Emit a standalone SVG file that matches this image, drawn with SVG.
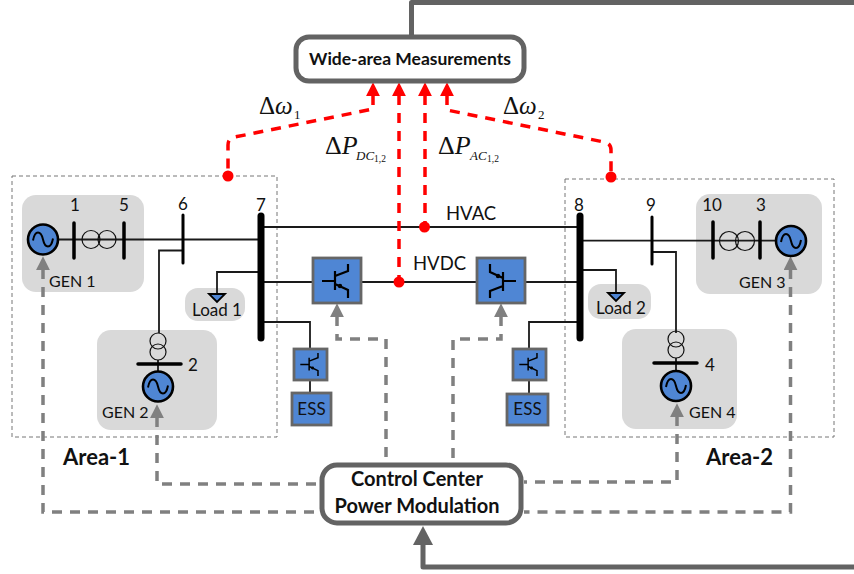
<svg xmlns="http://www.w3.org/2000/svg" width="854" height="574" viewBox="0 0 854 574">
<style>
text{font-family:Lato,Carlito,"Open Sans",sans-serif;fill:#111}
.t{font-size:17px}
.g{font-size:16px}
.h{font-size:18.5px}
.c{text-anchor:middle}
.b{font-weight:700}
.m{font-family:"Liberation Serif","DejaVu Serif",serif}
.i{font-style:italic}
.gray{fill:#d9d9d9}
.area{fill:none;stroke:#777;stroke-width:1;stroke-dasharray:4 3}
.w{fill:none;stroke:#1a1a1a;stroke-width:1.8}
.bus{stroke:#000;stroke-linecap:round;fill:none}
.xf{fill:none;stroke:#111;stroke-width:1.2}
.gen{fill:#4f86d4;stroke:#000;stroke-width:2.6}
.sine{fill:none;stroke:#000;stroke-width:2}
.conv{fill:#4f86d4;stroke:#666;stroke-width:2.8}
.big{fill:#fff;stroke:#636363;stroke-width:5}
.thick{fill:none;stroke:#636363;stroke-width:5;stroke-linejoin:round}
.red{fill:none;stroke:#f00;stroke-width:3.5;stroke-dasharray:10 8}
.gd{fill:none;stroke:#808080;stroke-width:3.5;stroke-dasharray:10 8}
.dot{fill:#f00}
.tr{fill:none;stroke:#000;stroke-width:2.2}
</style>
<defs>
<marker id="ar" markerUnits="userSpaceOnUse" markerWidth="14" markerHeight="14" viewBox="0 0 12 12" refX="1" refY="6" orient="auto-start-reverse"><path d="M0,0L12,6L0,12z" fill="#f00"/></marker>
<marker id="ag" markerUnits="userSpaceOnUse" markerWidth="14" markerHeight="14" viewBox="0 0 12 12" refX="1" refY="6" orient="auto-start-reverse"><path d="M0,0L12,6L0,12z" fill="#808080"/></marker>
<marker id="ad" markerUnits="userSpaceOnUse" markerWidth="20" markerHeight="20" viewBox="0 0 20 20" refX="1" refY="10" orient="auto"><path d="M0,0L19,10L0,20z" fill="#636363"/></marker>
<g id="tran"><path class="tr" d="M-15,0H-2M-2,-10V9M-2,-5L11,-10V-17M-2,3L11,9V17"/><circle cx="3" cy="5" r="2.2" fill="#000"/></g>
<g id="sin"><path class="sine" d="M-10,1C-8,-10 -2,-9 0,0C2,9 8,10 10,-1"/></g>
</defs>

<g id="area-1"><rect class="area" x="12" y="176" width="265" height="261"/><text class="b" x="63" y="465" font-size="22">Area-1</text></g>
<g id="area-2"><rect class="area" x="565" y="179" width="269" height="258"/><text class="b" x="706" y="465" font-size="22">Area-2</text></g>

<g id="backdrops">
<rect class="gray" x="22" y="195" width="122" height="97" rx="14"/>
<rect class="gray" x="185" y="288" width="60" height="33" rx="13"/>
<rect class="gray" x="97" y="330" width="120" height="100" rx="14"/>
<rect class="gray" x="696" y="194" width="126" height="100" rx="14"/>
<rect class="gray" x="588" y="284" width="63" height="35" rx="13"/>
<rect class="gray" x="622" y="329" width="115" height="100" rx="14"/>
</g>

<g id="connectors">
<path class="w" d="M58,239.500H258M183,250.500H159V333M258,272H217V295"/>
<path class="w" d="M264,227H578M264,282H313M361,282H477M525,282H578M264,322H310V349M310,380V393"/>
<path class="w" d="M582,240.700H776M652,252H676V333M582,270H616V293"/>
<path class="w" d="M578,322H529V349M529,380V394"/>
<path class="w" d="M158,360V371M676,358V371"/>
<path class="thick" d="M411.500,36V2.500H854"/>
<path class="thick" d="M854,567H423V544" marker-end="url(#ad)"/>
<path class="red" d="M373,95V109L235,137Q228,138 228,145V176" marker-start="url(#ar)"/>
<path class="red" d="M399,95V282" marker-start="url(#ar)"/>
<path class="red" d="M425,95V227" marker-start="url(#ar)"/>
<path class="red" d="M447,95V110L604,142Q611,143 611,150V177" marker-start="url(#ar)"/>
<path class="gd" d="M43,269V512H322" marker-start="url(#ag)"/>
<path class="gd" d="M157,417V484H322" marker-start="url(#ag)"/>
<path class="gd" d="M337,316V339H386V465" marker-start="url(#ag)"/>
<path class="gd" d="M501,316V339H453V465" marker-start="url(#ag)"/>
<path class="gd" d="M677,416V482H524" marker-start="url(#ag)"/>
<path class="gd" d="M790.500,269V512H524" marker-start="url(#ag)"/>
<circle class="dot" cx="228" cy="176" r="5.500"/>
<circle class="dot" cx="611" cy="177" r="5.500"/>
<circle class="dot" cx="424.500" cy="227" r="5.500"/>
<circle class="dot" cx="399" cy="282" r="5.500"/>
</g>

<g id="gen1">
<circle class="gen" cx="43" cy="239.500" r="15"/><use href="#sin" x="43" y="239.500"/>
<path class="bus" stroke-width="3.500" d="M74,223V258M124,223V258"/>
<circle class="xf" cx="91" cy="239.500" r="9"/><circle class="xf" cx="107" cy="239.500" r="9"/>
<text class="t c" x="75" y="211">1</text><text class="t c" x="124" y="211">5</text>
<text class="g" x="49" y="287">GEN 1</text>
</g>
<g id="bus6"><path class="bus" stroke-width="3" d="M183,215V263"/><text class="t c" x="183" y="210">6</text></g>
<g id="bus7"><path class="bus" stroke-width="7" d="M261,216V338"/><text class="t c" x="261" y="211">7</text></g>
<g id="load1"><path d="M209,294H225L217,302z" fill="#4f86d4" stroke="#000" stroke-width="1.800"/><text class="t c" x="217" y="316">Load 1</text></g>
<g id="gen2">
<circle class="xf" cx="158" cy="341" r="8"/><circle class="xf" cx="158" cy="352" r="8"/>
<path class="bus" stroke-width="3.500" d="M138,364H181"/>
<circle class="gen" cx="158" cy="386.500" r="15"/><use href="#sin" x="158" y="386.500"/>
<text class="t" x="188" y="371">2</text><text class="g" x="102" y="418">GEN 2</text>
</g>
<g id="conv1"><rect class="conv" x="313" y="258" width="48" height="45"/><use href="#tran" x="337" y="281"/></g>
<g id="conv2"><rect class="conv" x="477" y="258" width="48" height="45"/><use href="#tran" transform="translate(501,281) rotate(180)"/></g>
<g id="conv3"><rect class="conv" x="294" y="349" width="33" height="31"/><use href="#tran" transform="translate(310.500,364.500) scale(.68)"/></g>
<g id="ess1"><rect class="conv" x="292" y="393" width="39" height="32"/><text class="t c" x="311.500" y="415">ESS</text></g>
<g id="conv4"><rect class="conv" x="513" y="349" width="33" height="31"/><use href="#tran" transform="translate(529.500,364.500) scale(.68)"/></g>
<g id="ess2"><rect class="conv" x="507" y="394" width="41" height="31"/><text class="t c" x="527.500" y="415">ESS</text></g>
<g id="bus8"><path class="bus" stroke-width="7" d="M580,216V338"/><text class="t c" x="579" y="211">8</text></g>
<g id="bus9"><path class="bus" stroke-width="3" d="M652,217V264"/><text class="t c" x="651" y="211">9</text></g>
<g id="load2"><path d="M608,293H624L616,301z" fill="#4f86d4" stroke="#000" stroke-width="1.800"/><text class="t c" x="621" y="314">Load 2</text></g>
<g id="gen3">
<path class="bus" stroke-width="3.500" d="M713,222V258M760,222V258"/>
<circle class="xf" cx="729" cy="241" r="9.500"/><circle class="xf" cx="745" cy="241" r="9.500"/>
<circle class="gen" cx="791" cy="241" r="15"/><use href="#sin" x="791" y="241"/>
<text class="t c" x="712" y="211">10</text><text class="t c" x="761" y="211">3</text>
<text class="g" x="739" y="288">GEN 3</text>
</g>
<g id="gen4">
<circle class="xf" cx="676" cy="339" r="8"/><circle class="xf" cx="676" cy="350" r="8"/>
<path class="bus" stroke-width="3.500" d="M654,363H697"/>
<circle class="gen" cx="676" cy="386" r="15"/><use href="#sin" x="676" y="386"/>
<text class="t" x="705" y="371">4</text><text class="g" x="689" y="418">GEN 4</text>
</g>
<g id="wam"><rect class="big" x="296" y="37" width="228" height="44" rx="13"/><text class="b c" x="410" y="65" font-size="17.500">Wide-area Measurements</text></g>
<g id="cc"><rect class="big" x="322" y="465" width="199" height="58" rx="15"/><text class="b c" x="417" y="486" font-size="20">Control Center</text><text class="b c" x="417" y="513" font-size="20">Power Modulation</text></g>

<g id="labels">
<text class="h" x="446" y="220">HVAC</text>
<text class="h" x="413" y="270">HVDC</text>
<text class="m" x="259" y="114" font-size="25">Δ<tspan class="i">ω</tspan></text><text class="m" x="294" y="119" font-size="13">1</text>
<text class="m" x="503" y="114" font-size="25">Δ<tspan class="i">ω</tspan></text><text class="m" x="538" y="119" font-size="13">2</text>
<text class="m" x="325" y="154" font-size="26">Δ<tspan class="i">P</tspan></text><text class="m i" x="356" y="160" font-size="13">DC</text><text class="m" x="374" y="162" font-size="9.500">1,2</text>
<text class="m" x="438" y="154" font-size="26">Δ<tspan class="i">P</tspan></text><text class="m i" x="470" y="160" font-size="13">AC</text><text class="m" x="487" y="162" font-size="9.500">1,2</text>
</g>
</svg>
